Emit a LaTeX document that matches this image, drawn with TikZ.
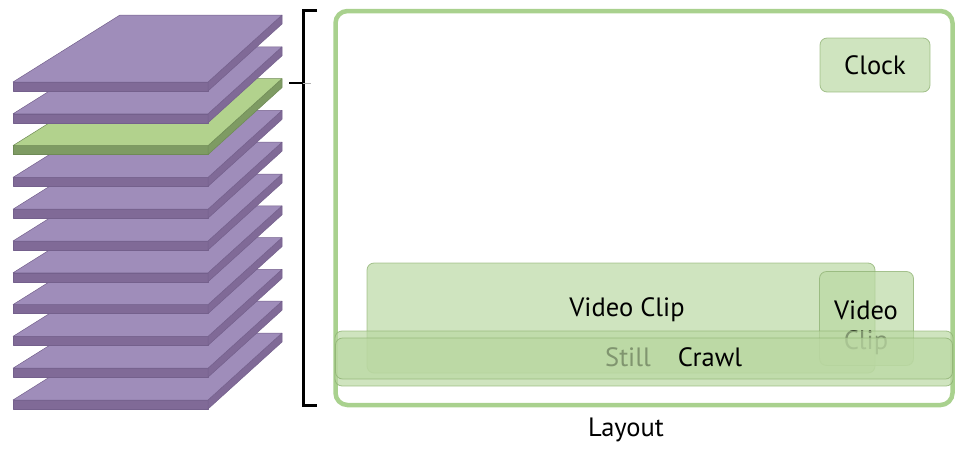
\documentclass[tikz,border=0pt]{standalone}
\usepackage{fontspec}
\setmainfont{PT Sans}
\begin{document}
\begin{tikzpicture}[x=1pt,y=-1pt,
  lbl/.style={inner sep=0pt, font=\fontsize{26.5}{31}\selectfont, text=black},
  gbox/.style={draw=gedge, line width=0.8pt, draw opacity=0.75, fill=gfill, fill opacity=0.69, rounded corners=7pt, inner sep=0pt},
  platetop/.style={fill=ptop, draw=pedge, line width=0.5pt, line join=round},
  plateside/.style={fill=pside, draw=pedge, line width=0.5pt, line join=round},
]
\definecolor{ptop}{HTML}{9F8DBA}
\definecolor{pside}{HTML}{806A97}
\definecolor{pedge}{HTML}{74608C}
\definecolor{gtop}{HTML}{B2D28D}
\definecolor{gside}{HTML}{7E9B63}
\definecolor{gedgep}{HTML}{6E8A55}
\definecolor{gfill}{HTML}{BAD8A2}
\definecolor{gedge}{HTML}{8CB070}
\definecolor{frame}{HTML}{A9D18E}
\useasboundingbox (0,0) rectangle (974,448);
% plates, bottom first
\foreach \i in {10,9,...,0}{
  \pgfmathsetmacro{\yy}{82+31.8*\i}
  \ifnum\i=2
    \tikzset{tf/.style={platetop,fill=gtop,draw=gedgep}, sf/.style={plateside,fill=gside,draw=gedgep}}
  \else
    \tikzset{tf/.style={platetop}, sf/.style={plateside}}
  \fi
  \draw[sf] (13,\yy) -- (208,\yy) -- (208,\yy+9) -- (13,\yy+9) -- cycle;
  \draw[sf] (208,\yy) -- (282,\yy-67) -- (282,\yy-58) -- (208,\yy+9) -- cycle;
  \draw[tf] (13,\yy) -- (208,\yy) -- (282,\yy-67) -- (120,\yy-67) -- cycle;
}
% bracket
\coordinate (btop) at (317,10);
\coordinate (bbot) at (317,405);
\coordinate (tickl) at (289,83);
\coordinate (tickr) at (303,83);
\coordinate (tickg) at (311,83);
\draw[line width=3pt] (btop) -- (303,10) -- (303,405) -- (bbot);
\draw[line width=2.5pt] (tickl) -- (tickr);
\draw[line width=0.6pt, gray!60] (tickr) -- (tickg);
% layout frame
\node[draw=frame, line width=4.5pt, rounded corners=12pt, minimum width=617pt, minimum height=394pt, inner sep=0pt] (frame) at (644,208) {};
\node[lbl] (layout) at (626,430) {Layout};
% clock
\node[gbox, minimum width=110pt, minimum height=54pt] (clock) at (875,65) {};
\node[lbl] (clocktxt) at (875,65) {Clock};
% big video clip
\node[gbox, minimum width=508pt, minimum height=110pt] (clip1) at (621,318) {};
\node[lbl] (clip1txt) at (627,310) {Video Clip};
% small video clip
\node[gbox, minimum width=94pt, minimum height=94pt] (clip2) at (866.5,318.5) {};
\node[lbl] (clip2a) at (866,310) {Video};
\node[lbl] (clip2b) at (866,343) {Clip};
% still
\node[gbox, minimum width=618pt, minimum height=55pt] (still) at (644,358.5) {};
\node[lbl] (stilltxt) at (628,357) {Still};
% crawl
\node[gbox, minimum width=617pt, minimum height=41pt] (crawl) at (644,358.5) {};
\node[lbl] (crawltxt) at (710,357) {Crawl};
\end{tikzpicture}
\end{document}
